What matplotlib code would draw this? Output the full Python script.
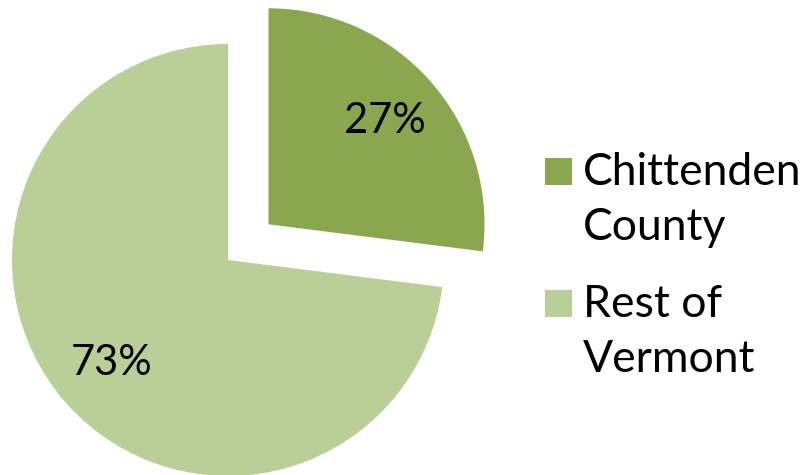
import matplotlib
matplotlib.use("Agg")
import matplotlib.pyplot as plt
from matplotlib.patches import Rectangle

# share of the state by area
labels = ["Chittenden\nCounty", "Rest of\nVermont"]
shares = [27, 73]
colors = ["#8AA64F", "#BACE97"]

plt.rcParams["font.family"] = ["Lato", "DejaVu Sans"]
FS = 30

fig = plt.figure(figsize=(8, 4.75), dpi=100)

# pie axes: centre at (228, 260) px, radius 216 px
cx, cy, r = 228, 260, 216
ax = fig.add_axes([(cx - r) / 800, (475 - cy - r) / 475, 2 * r / 800, 2 * r / 475])

wedges, texts, autotexts = ax.pie(
    shares,
    colors=colors,
    startangle=90,
    counterclock=False,
    explode=[0.25, 0],
    autopct="%d%%",
    pctdistance=0.72,
    textprops=dict(fontsize=FS, color="black"),
    wedgeprops=dict(linewidth=0),
)
for w in wedges:
    w.set_clip_on(False)
for t in autotexts:
    t.set_clip_on(False)
ax.set_xlim(-1, 1)
ax.set_ylim(-1, 1)
ax.set_aspect("equal")
ax.axis("off")

# legend drawn by hand: square sits on the first text line's baseline
sq = 27
for i, (lab, col) in enumerate(zip(labels, colors)):
    base = 185 + i * 132
    fig.patches.append(Rectangle((545 / 800, (475 - base) / 475), sq / 800, sq / 475,
                                 transform=fig.transFigure, facecolor=col, edgecolor="none"))
    for j, line in enumerate(lab.split("\n")):
        fig.text(583 / 800, (475 - base - 55 * j) / 475, line, fontsize=32,
                 ha="left", va="baseline")

fig.savefig("out.png", dpi=100)
